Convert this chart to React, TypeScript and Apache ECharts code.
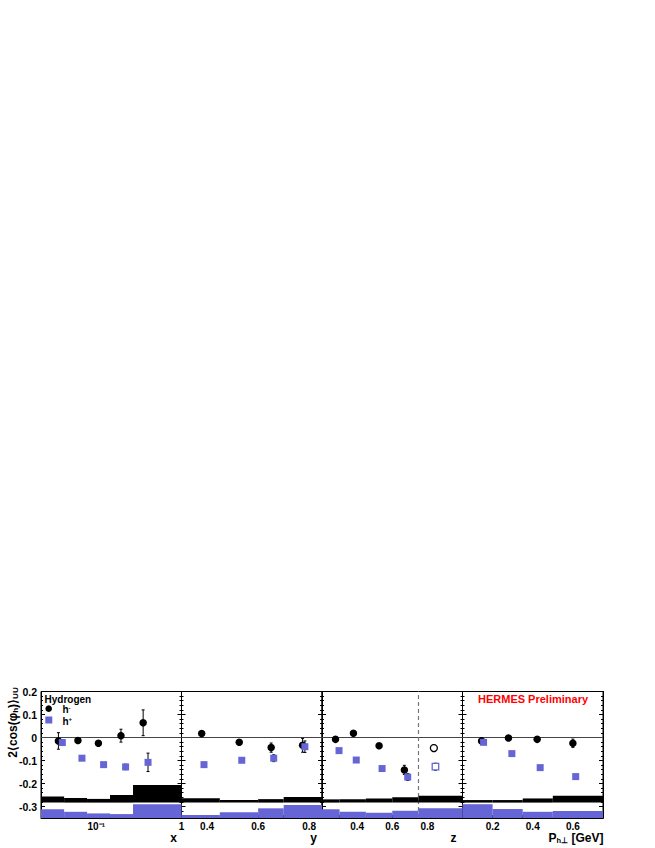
import React, { useEffect, useRef } from "react";
import * as echarts from "echarts";

const FONT = "'Liberation Sans', Arial, Helvetica, sans-serif";
const BLUE = "#6565d5";

// ---- axes ----
const panelXMin = [0.0225, 0.3, 0.2, 0.05];
const panelXMax = [1, 0.85, 1.0, 0.75];
const panelXLabels = [[0.1, 1], [0.4, 0.6, 0.8], [0.4, 0.6, 0.8], [0.2, 0.4, 0.6]];
const panelXTicks = [
  [0.03, 0.04, 0.05, 0.06, 0.07, 0.08, 0.09, 0.1, 0.2, 0.3, 0.4, 0.5, 0.6, 0.7, 0.8, 0.9],
  [0.35, 0.4, 0.45, 0.5, 0.55, 0.6, 0.65, 0.7, 0.75, 0.8],
  [0.25, 0.3, 0.35, 0.4, 0.45, 0.5, 0.55, 0.6, 0.65, 0.7, 0.75, 0.8, 0.85, 0.9, 0.95],
  [0.1, 0.15, 0.2, 0.25, 0.3, 0.35, 0.4, 0.45, 0.5, 0.55, 0.6, 0.65, 0.7],
];
const yLabels = [-0.3, -0.2, -0.1, 0, 0.1, 0.2];
const yMinorTicks = [-0.34, -0.32, -0.28, -0.26, -0.24, -0.22, -0.18, -0.16, -0.14, -0.12, -0.08, -0.06, -0.04, -0.02, 0.02, 0.04, 0.06, 0.08, 0.12, 0.14, 0.16, 0.18];

const sysHmBase = -0.283;
const sysHpBase = -0.35;

// ---- panel x (log) ----
const xBinEdges = [0.0225, 0.042, 0.078, 0.145, 0.27, 1];
const xSysHm = [-0.257, -0.263, -0.267, -0.25, -0.207];
const xSysHp = [-0.312, -0.323, -0.33, -0.333, -0.29];
const xHmX = [0.036, 0.061, 0.106, 0.195, 0.355];
const xHmV = [-0.015, -0.013, -0.025, 0.008, 0.064];
const xHmE = [0.036, 0.008, 0.008, 0.028, 0.056];
const xHpX = [0.04, 0.068, 0.122, 0.221, 0.405];
const xHpV = [-0.022, -0.09, -0.118, -0.128, -0.108];
const xHpE = [0.012, 0.008, 0.008, 0.012, 0.04];

// ---- panel y ----
const yBinEdges = [0.3, 0.45, 0.6, 0.7, 0.85];
const ySysHm = [-0.264, -0.272, -0.268, -0.259];
const ySysHp = [-0.337, -0.325, -0.308, -0.294];
const yHmX = [0.379, 0.526, 0.651, 0.774];
const yHmV = [0.017, -0.021, -0.044, -0.034];
const yHmE = [0.008, 0.008, 0.02, 0.03];
const yHpX = [0.388, 0.536, 0.661, 0.783];
const yHpV = [-0.118, -0.099, -0.09, -0.04];
const yHpE = [0.008, 0.008, 0.015, 0.025];

// ---- panel z ----
const zBinEdges = [0.2, 0.3, 0.45, 0.6, 0.75, 1.0];
const zSysHm = [-0.269, -0.269, -0.265, -0.26, -0.253];
const zSysHp = [-0.312, -0.323, -0.327, -0.318, -0.308];
const zHmX = [0.277, 0.379, 0.525, 0.669];
const zHmV = [-0.008, 0.018, -0.036, -0.141];
const zHmE = [0.006, 0.006, 0.006, 0.02];
const zHpX = [0.297, 0.395, 0.542, 0.688];
const zHpV = [-0.057, -0.098, -0.135, -0.172];
const zHpE = [0.005, 0.005, 0.006, 0.015];
const zHmOpenX = [0.837];
const zHmOpenV = [-0.046];
const zHmOpenE = [0.015];
const zHpOpenX = [0.846];
const zHpOpenV = [-0.127];
const zHpOpenE = [0.015];
const zCut = 0.75;

// ---- panel Ph ----
const pBinEdges = [0.05, 0.2, 0.35, 0.5, 0.75];
const pSysHm = [-0.272, -0.272, -0.265, -0.253];
const pSysHp = [-0.29, -0.311, -0.323, -0.32];
const pHmX = [0.145, 0.279, 0.422, 0.6];
const pHmV = [-0.015, -0.002, -0.008, -0.025];
const pHmE = [0.015, 0.008, 0.008, 0.018];
const pHpX = [0.155, 0.296, 0.437, 0.614];
const pHpV = [-0.021, -0.07, -0.131, -0.17];
const pHpE = [0.008, 0.006, 0.006, 0.008];

const panels = [
  { edges: xBinEdges, sHm: xSysHm, sHp: xSysHp, hm: [xHmX, xHmV, xHmE], hp: [xHpX, xHpV, xHpE] },
  { edges: yBinEdges, sHm: ySysHm, sHp: ySysHp, hm: [yHmX, yHmV, yHmE], hp: [yHpX, yHpV, yHpE] },
  {
    edges: zBinEdges, sHm: zSysHm, sHp: zSysHp, hm: [zHmX, zHmV, zHmE], hp: [zHpX, zHpV, zHpE],
    hmOpen: [zHmOpenX, zHmOpenV, zHmOpenE], hpOpen: [zHpOpenX, zHpOpenV, zHpOpenE],
  },
  { edges: pBinEdges, sHm: pSysHm, sHp: pSysHp, hm: [pHmX, pHmV, pHmE], hp: [pHpX, pHpV, pHpE] },
];

const GRID_LEFT = 41;
const GRID_W = 140.5;
const GRID_TOP = 691.5;
const GRID_H = 126.5;

function bandRender(color: string) {
  return (params: any, api: any) => {
    const p0 = api.coord([api.value(0), api.value(2)]);
    const p1 = api.coord([api.value(1), api.value(3)]);
    return {
      type: "rect",
      shape: { x: p0[0], y: p0[1], width: p1[0] - p0[0], height: p1[1] - p0[1] },
      style: { fill: color },
    };
  };
}

function errRender(params: any, api: any) {
  const x = api.value(0);
  const v = api.value(1);
  const e = api.value(2);
  const t = api.coord([x, v + e]);
  const b = api.coord([x, v - e]);
  const st = { stroke: "#000", lineWidth: 1 };
  return {
    type: "group",
    children: [
      { type: "line", shape: { x1: t[0], y1: t[1], x2: b[0], y2: b[1] }, style: st },
      { type: "line", shape: { x1: t[0] - 1.5, y1: t[1], x2: t[0] + 1.5, y2: t[1] }, style: st },
      { type: "line", shape: { x1: b[0] - 1.5, y1: b[1], x2: b[0] + 1.5, y2: b[1] }, style: st },
    ],
  };
}

function pts(arr: number[][]) {
  return arr[0].map((x, i) => [x, arr[1][i], arr[2][i]]);
}

function buildOption() {
  const grid: any[] = [];
  const xAxis: any[] = [];
  const yAxis: any[] = [];
  const series: any[] = [];

  panels.forEach((p: any, i) => {
    grid.push({
      left: GRID_LEFT + i * GRID_W,
      top: GRID_TOP,
      width: GRID_W,
      height: GRID_H,
      show: true,
      borderColor: "#000",
      borderWidth: 1,
      backgroundColor: "transparent",
    });
    xAxis.push({
      type: i === 0 ? "log" : "value",
      logBase: 10,
      gridIndex: i,
      position: "bottom",
      min: panelXMin[i],
      max: panelXMax[i],
      axisLine: { show: true, onZero: false, lineStyle: { color: "#000", width: 1 } },
      axisTick: { show: true, inside: true, length: 3, customValues: panelXTicks[i], lineStyle: { color: "#000" } },
      axisLabel: {
        show: true,
        customValues: panelXLabels[i],
        showMinLabel: true,
        showMaxLabel: true,
        margin: 3.5,
        fontSize: 10,
        fontWeight: "bold",
        fontFamily: FONT,
        color: "#000",
        formatter: (v: number) => (i === 0 ? (v < 0.5 ? "10\u207B\u00B9" : "1") : Number(v).toFixed(1)),
      },
      splitLine: { show: false },
      minorTick: { show: false },
    });
    const mk = (position: string, ticks: number[], len: number, labels: boolean) => ({
      type: "value",
      gridIndex: i,
      position,
      min: -0.35,
      max: 0.2,
      axisLine: { show: true, onZero: false, lineStyle: { color: "#000", width: 1 } },
      axisTick: { show: true, inside: true, length: len, customValues: ticks, lineStyle: { color: "#000", width: 1 } },
      axisLabel: labels
        ? {
            show: true,
            customValues: yLabels,
            margin: 4,
            fontSize: 10.5,
            fontWeight: "bold",
            fontFamily: FONT,
            color: "#000",
            formatter: (v: number) => String(Math.round(v * 10) / 10),
          }
        : { show: false },
      splitLine: { show: false },
    });
    yAxis.push(mk("left", yLabels, 4, i === 0));
    yAxis.push(mk("left", yMinorTicks, 2, false));
    yAxis.push(mk("right", yLabels, 4, false));
    yAxis.push(mk("right", yMinorTicks, 2, false));
    const yi = i * 4;

    // zero line and cut line
    const markData: any[] = [{ yAxis: 0, lineStyle: { color: "#444", width: 1, type: "solid" } }];
    if (i === 2) markData.push({ xAxis: zCut, lineStyle: { color: "#777", width: 1.2, type: [4, 3] } });
    series.push({
      type: "scatter",
      xAxisIndex: i,
      yAxisIndex: yi,
      data: [],
      silent: true,
      z: 1,
      markLine: { z: 1, silent: true, symbol: ["none", "none"], label: { show: false }, data: markData, animation: false },
    });

    // systematic bands
    series.push({
      type: "custom",
      xAxisIndex: i,
      yAxisIndex: yi,
      z: 2,
      silent: true,
      renderItem: bandRender("#000"),
      encode: { x: [0, 1], y: [2, 3] },
      data: p.sHm.map((t: number, k: number) => [p.edges[k], p.edges[k + 1], t, sysHmBase]),
    });
    series.push({
      type: "custom",
      xAxisIndex: i,
      yAxisIndex: yi,
      z: 2,
      silent: true,
      renderItem: bandRender(BLUE),
      encode: { x: [0, 1], y: [2, 3] },
      data: p.sHp.map((t: number, k: number) => [p.edges[k], p.edges[k + 1], t, sysHpBase]),
    });

    const groups: any[] = [
      { d: p.hm, sym: "circle", fill: "#000", border: "#000", size: 7.5 },
      { d: p.hp, sym: "rect", fill: BLUE, border: BLUE, size: 7 },
    ];
    if (p.hmOpen) groups.push({ d: p.hmOpen, sym: "circle", fill: "#fff", border: "#000", size: 7 });
    if (p.hpOpen) groups.push({ d: p.hpOpen, sym: "rect", fill: "#fff", border: BLUE, size: 6.5 });

    groups.forEach((g) => {
      const data = pts(g.d);
      series.push({
        type: "custom",
        xAxisIndex: i,
        yAxisIndex: yi,
        z: 3,
        silent: true,
        renderItem: errRender,
        encode: { x: 0, y: 1 },
        data,
      });
      series.push({
        type: "scatter",
        xAxisIndex: i,
        yAxisIndex: yi,
        z: 4,
        silent: true,
        symbol: g.sym,
        symbolSize: g.size,
        itemStyle: { color: g.fill, borderColor: g.border, borderWidth: g.fill === "#fff" ? 1.3 : 0, opacity: 1 },
        data: data.map((d) => [d[0], d[1]]),
      });
    });
  });

  const txt = (x: number, y: number, text: string, extra: any = {}) => ({
    type: "text",
    x,
    y,
    silent: true,
    style: {
      text,
      fontFamily: FONT,
      fontWeight: "bold",
      fontSize: 12,
      fill: "#000",
      align: "left",
      verticalAlign: "middle",
      ...extra,
    },
  });

  const graphic: any[] = [
    txt(44.5, 699.5, "Hydrogen", { fontSize: 10 }),
    { type: "circle", shape: { cx: 48.7, cy: 708.7, r: 3.3 }, style: { fill: "#000" }, silent: true },
    { type: "rect", shape: { x: 45.3, y: 716.5, width: 7, height: 7 }, style: { fill: BLUE }, silent: true },
    txt(62.5, 709.5, "{b|h}{s|-}", {
      rich: {
        b: { fontSize: 10, fontWeight: "bold", fontFamily: FONT, fill: "#000" },
        s: { fontSize: 6, fontWeight: "bold", fontFamily: FONT, fill: "#000", verticalAlign: "top" },
      },
    }),
    txt(62.5, 721, "{b|h}{s|+}", {
      rich: {
        b: { fontSize: 10, fontWeight: "bold", fontFamily: FONT, fill: "#000" },
        s: { fontSize: 6, fontWeight: "bold", fontFamily: FONT, fill: "#000", verticalAlign: "top" },
      },
    }),
    txt(478, 699, "HERMES Preliminary", { fontSize: 11, fill: "#ff0000" }),
    {
      type: "text",
      x: 13,
      y: 722.5,
      rotation: Math.PI / 2,
      silent: true,
      style: {
        text: "{n|2\u27E8cos(\u03C6}{s|h}{n|)\u27E9}{s|UU}",
        align: "center",
        verticalAlign: "middle",
        rich: {
          n: { fontSize: 12, fontWeight: "bold", fontFamily: FONT, fill: "#000" },
          s: { fontSize: 8, fontWeight: "bold", fontFamily: FONT, fill: "#000", verticalAlign: "bottom" },
        },
      },
    },
    txt(173.5, 838, "x", { align: "center" }),
    txt(313.5, 838, "y", { align: "center" }),
    txt(453.5, 838, "z", { align: "center" }),
    txt(603.5, 838, "{n|P}{s|h\u22A5}{n| [GeV]}", {
      align: "right",
      rich: {
        n: { fontSize: 12, fontWeight: "bold", fontFamily: FONT, fill: "#000" },
        s: { fontSize: 7.5, fontWeight: "bold", fontFamily: FONT, fill: "#000", verticalAlign: "bottom" },
      },
    }),
  ];

  return {
    animation: false,
    backgroundColor: "#fff",
    textStyle: { fontFamily: FONT },
    grid,
    xAxis,
    yAxis,
    series,
    graphic,
  };
}

export default function App() {
  const ref = useRef<HTMLDivElement>(null);
  useEffect(() => {
    if (!ref.current) return;
    const chart = echarts.init(ref.current, undefined, { renderer: "svg" });
    chart.setOption(buildOption() as any);
    return () => chart.dispose();
  }, []);
  return (
    <div
      ref={ref}
      style={{ position: "absolute", left: 0, top: 0, width: 655, height: 848, background: "#fff" }}
    />
  );
}
